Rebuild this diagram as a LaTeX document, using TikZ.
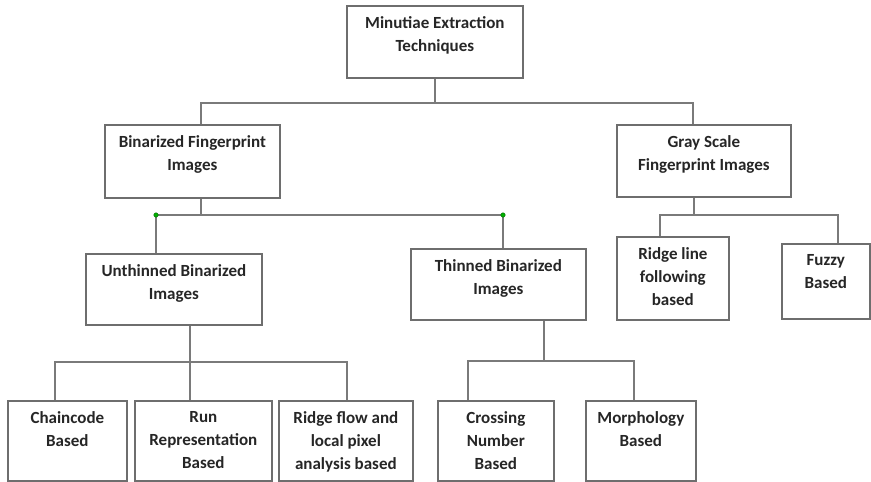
\documentclass[tikz,border=0pt]{standalone}
\usepackage{fontspec}
\setmainfont{Carlito}
\begin{document}
\begin{tikzpicture}[x=1pt,y=-1pt,
  box/.style={draw=boxgray,line width=1.7pt,fill=white,inner sep=0pt},
  lbl/.style={anchor=north,align=center,inner sep=0pt,text=black!85,font=\fontsize{17}{23}\selectfont\bfseries},
  conn/.style={draw=linegray,line width=1.7pt},
  dot/.style={circle,fill=green!70!black,draw=green!40!black,line width=0.4pt,inner sep=0pt,minimum size=4.5pt}]
\definecolor{boxgray}{HTML}{6E6E6E}
\definecolor{linegray}{HTML}{7A7A7A}
\useasboundingbox (0,0) rectangle (871,482);
% boxes: corners
\newcommand{\mkbox}[6]{%
  \node[box,minimum width={#4-#2},minimum height={#5-#3},anchor=north west] (#1) at (#2,#3) {};
  \node[lbl] (#1-t) at ([yshift=-11]#1.north) {#6};}
\mkbox{top}{346}{5}{522}{77}{Minutiae Extraction\\Techniques}
\mkbox{bin}{104}{124}{279}{197}{Binarized Fingerprint\\Images}
\mkbox{gray}{616}{124}{790}{196}{Gray Scale\\Fingerprint Images}
\mkbox{unth}{85}{253}{261}{324}{Unthinned Binarized\\Images}
\mkbox{thin}{410}{248}{585}{319}{Thinned Binarized\\Images}
\mkbox{rline}{616}{236}{728}{319}{Ridge line\\following\\based}
\mkbox{fuzzy}{781}{243}{869}{318}{Fuzzy\\Based}
\mkbox{chain}{7}{400}{126}{480}{Chaincode\\Based}
\mkbox{run}{134}{400}{271}{480}{Run\\Representation\\Based}
\mkbox{rflow}{278}{400}{412}{480}{Ridge flow and\\local pixel\\analysis based}
\mkbox{cross}{437}{400}{553}{480}{Crossing\\Number\\Based}
\mkbox{morph}{585}{400}{695}{480}{Morphology\\Based}
% junction coordinates
\coordinate (j1l) at (201,103);
\coordinate (j1r) at (693,103);
\coordinate (j2) at (201,215);
\coordinate (j2l) at (156,215);
\coordinate (j2r) at (503,215);
\coordinate (j3) at (190,362);
\coordinate (j3l) at (55,362);
\coordinate (j3r) at (347,362);
\coordinate (j4) at (544,361);
\coordinate (j4l) at (468,361);
\coordinate (j4r) at (634,361);
\coordinate (j5) at (694,215);
\coordinate (j5l) at (660,215);
\coordinate (j5r) at (838,215);
% connectors
\draw[conn] (top.south) -- (top.south |- j1l);
\draw[conn] (bin.north -| j1l) -- (j1l) -- (j1r) -- (gray.north -| j1r);
\draw[conn] (bin.south -| j2) -- (j2);
\draw[conn] (unth.north -| j2l) -- (j2l) -- (j2r) -- (thin.north -| j2r);
\draw[conn] (unth.south -| j3) -- (j3);
\draw[conn] (chain.north -| j3l) -- (j3l) -- (j3r) -- (rflow.north -| j3r);
\draw[conn] (j3) -- (run.north -| j3);
\draw[conn] (thin.south -| j4) -- (j4);
\draw[conn] (cross.north -| j4l) -- (j4l) -- (j4r) -- (morph.north -| j4r);
\draw[conn] (gray.south -| j5) -- (j5);
\draw[conn] (rline.north -| j5l) -- (j5l) -- (j5r) -- (fuzzy.north -| j5r);
\node[dot] (d1) at (j2l) {};
\node[dot] (d2) at (j2r) {};
\end{tikzpicture}
\end{document}
